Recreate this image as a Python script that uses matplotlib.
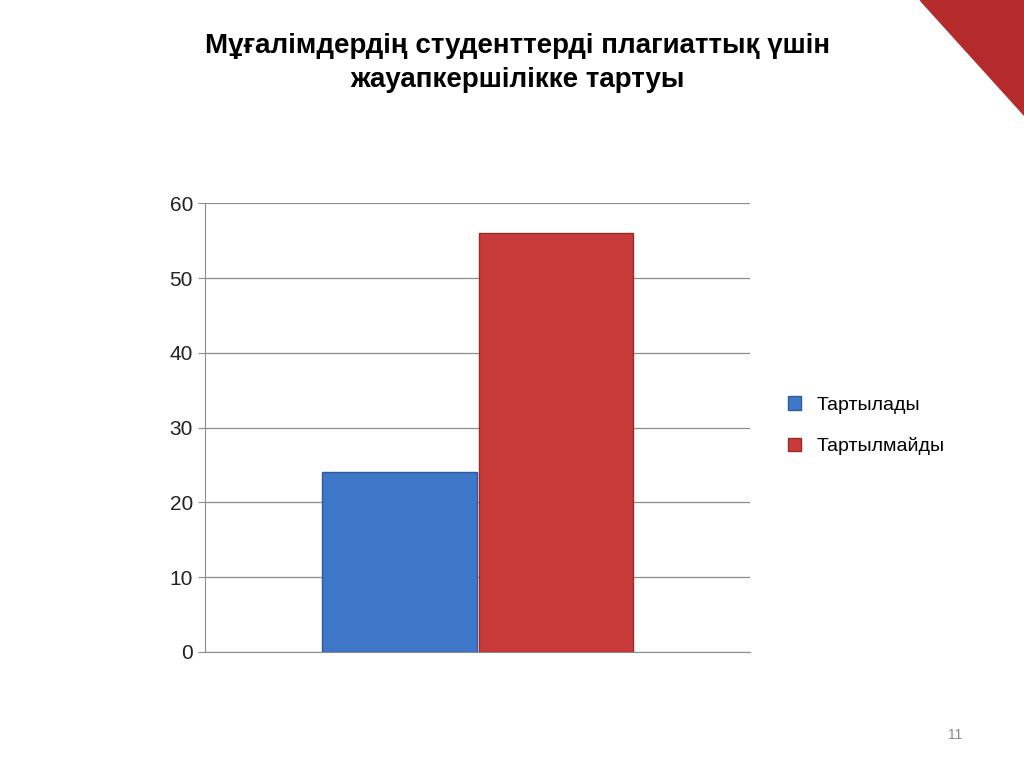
import matplotlib.pyplot as plt
from matplotlib.patches import Polygon

series = ["Тартылады", "Тартылмайды"]
values = [24, 56]
colors = ["#3f77c8", "#c93b3b"]
edges = ["#2e5a9a", "#9a2a2a"]
yticks = [0, 10, 20, 30, 40, 50, 60]

plt.rcParams['font.family'] = ['Liberation Sans', 'DejaVu Sans']

fig = plt.figure(figsize=(10.24, 7.67), dpi=100)
ax = fig.add_axes([0.2, 0.15, 0.532, 0.585])

positions = [1.26, 2.27]
for pos, v, c, e, name in zip(positions, values, colors, edges, series):
    ax.bar(pos, v, width=1.0, color=c, edgecolor=e, linewidth=1, label=name, zorder=3)

ax.set_xlim(0, 3.52)
ax.set_ylim(0, 60)
ax.set_yticks(yticks)
ax.set_xticks([])
ax.grid(axis='y', color='#8c8c8c', linewidth=0.9, zorder=0)
for s in ['top', 'right']:
    ax.spines[s].set_visible(False)
ax.spines['left'].set_color('#8c8c8c')
ax.spines['bottom'].set_color('#8c8c8c')
ax.tick_params(axis='y', labelsize=15, length=5, color='#8c8c8c', labelcolor='#222222')

fig.legend(loc='center left', bbox_to_anchor=(0.752, 0.445), frameon=False,
           fontsize=14, handlelength=0.7, handleheight=0.7, labelspacing=1.2)

fig.text(0.505, 0.918, "Мұғалімдердің студенттерді плагиаттық үшін\nжауапкершілікке тартуы",
         ha='center', va='center', fontsize=20, fontweight='bold', linespacing=1.4)

fig.patches.append(Polygon([[920/1024, 1], [1, 1], [1, 1 - 115/767]], closed=True,
                           transform=fig.transFigure, color='#b52a2a'))
fig.text(955/1024, 1 - 735/767, "11", ha='center', va='center', fontsize=10, color='#888888')

fig.savefig("out.png", dpi=100)
